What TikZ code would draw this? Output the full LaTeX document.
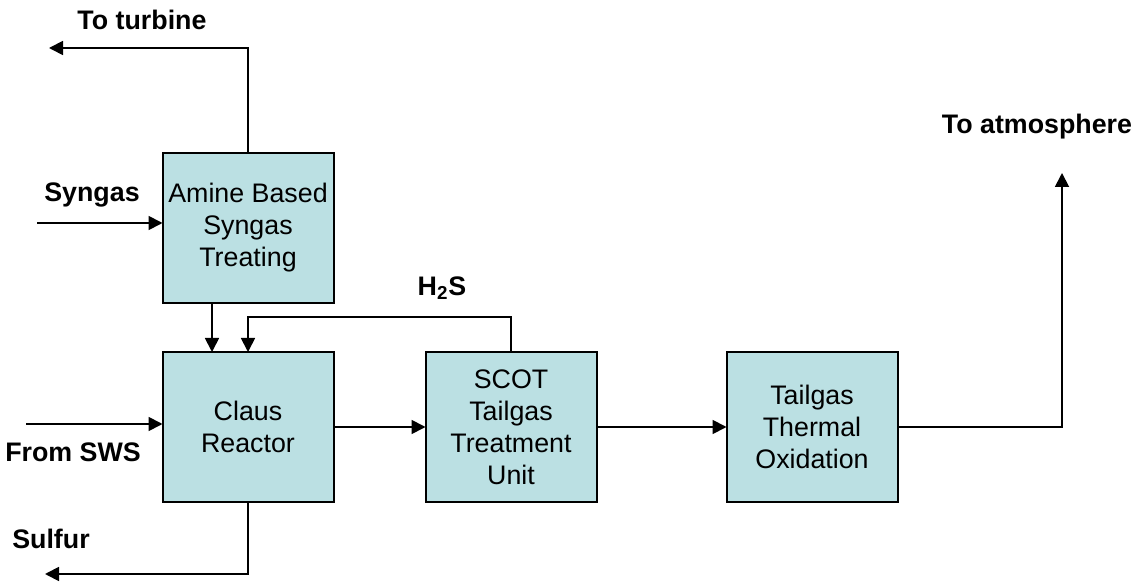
\documentclass[tikz,border=0pt]{standalone}
\usepackage{fontspec}
\setmainfont{Liberation Sans}
\usetikzlibrary{positioning, arrows.meta}

\definecolor{unitfill}{RGB}{187,224,227}

\begin{document}
\begin{tikzpicture}[x=0.5pt, y=-0.5pt, font=\fontsize{13.4}{16}\selectfont,
        unitbox/.style={draw, fill=unitfill, line width=1pt, minimum width=85.5pt, minimum height=75pt, inner sep=0pt, outer sep=0pt, align=center},
        flow/.style={line width=0.9pt, -{Triangle[length=7pt, width=7pt]}},
        streamlbl/.style={font=\fontsize{13.4}{16}\selectfont\bfseries, inner sep=0pt}]
        % Frame of the whole picture
        \useasboundingbox (0,0) rectangle (1140,582);

        %%% Units
            % Amine treatment on top
            \node[unitbox] (amineUnit) at (248,228) {Amine Based\\Syngas\\Treating};

            % Claus reactor right below the amine unit
            \node[unitbox, below=24.5pt of amineUnit] (clausUnit) {Claus\\Reactor};

            % SCOT unit, right of the Claus reactor
            \node[unitbox, right=46pt of clausUnit] (scotUnit) {SCOT\\Tailgas\\Treatment\\Unit};

            % Thermal oxidation, right of the SCOT unit
            \node[unitbox, right=65pt of scotUnit] (oxidUnit) {Tailgas\\Thermal\\Oxidation};

        %%% Free ends of the streams
            \coordinate (turbineEnd) at (49,48);
            \coordinate (syngasIn) at (37,223);
            \coordinate (swsIn) at (26,424);
            \coordinate (sulfurEnd) at (45,574);
            \coordinate (atmEnd) at (1062,173);

        %%% Stream labels
            \node[streamlbl] (turbineLbl) at (142,20) {To turbine};
            \node[streamlbl] (syngasLbl) at (92,195) {Syngas};
            \node[streamlbl] (swsLbl) at (73,452) {From SWS};
            \node[streamlbl] (sulfurLbl) at (51,539) {Sulfur};
            \node[streamlbl] (hsLbl) at (442,288) {H\textsubscript{2}S};
            \node[streamlbl] (atmLbl) at (1037,127) {To atmosphere};

        %%% Connectors
            \draw[flow] (amineUnit.north) |- (turbineEnd); % Clean syngas out
            \draw[flow] (syngasIn) -- (syngasIn -| amineUnit.west); % Syngas in
            \draw[flow] ([xshift=-18pt]amineUnit.south) -- ([xshift=-18pt]clausUnit.north); % Acid gas
            \draw[flow] (swsIn) -- (swsIn -| clausUnit.west); % Sour water stripper gas
            \draw[flow] (clausUnit.south) |- (sulfurEnd); % Sulfur product
            \draw[flow] (clausUnit) -- (scotUnit); % Claus tailgas
            \draw[flow] (scotUnit.north) -- ++(0,-35) -| (clausUnit.north); % H2S recycle
            \draw[flow] (scotUnit) -- (oxidUnit); % Treated tailgas
            \draw[flow] (oxidUnit.east) -| (atmEnd); % Stack
\end{tikzpicture}
\end{document}
